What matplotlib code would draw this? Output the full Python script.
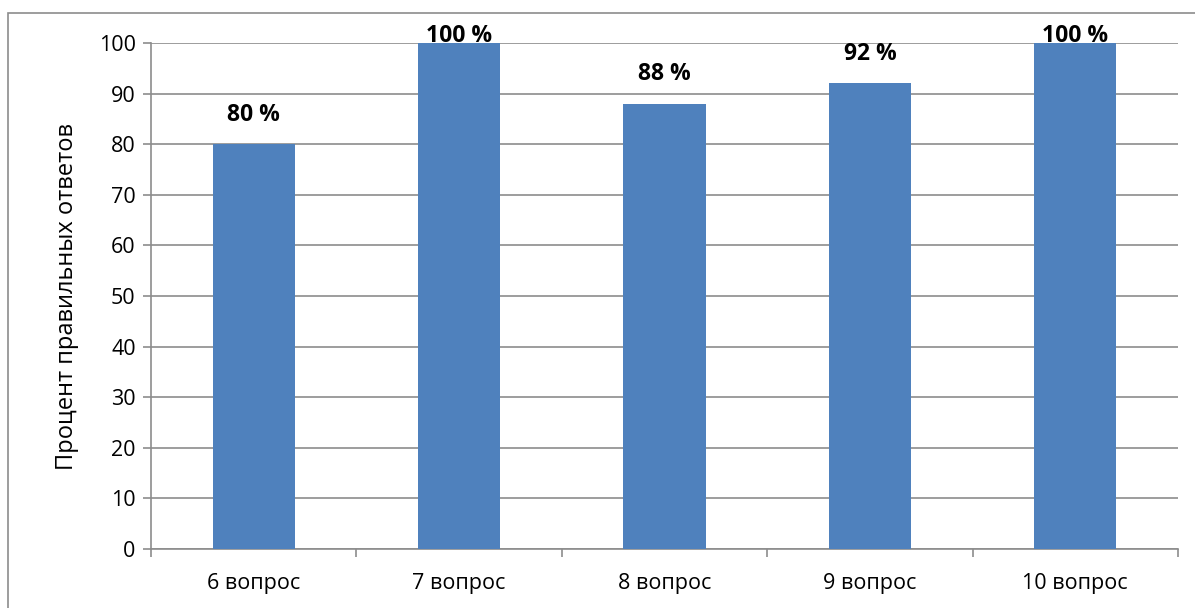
import matplotlib.pyplot as plt
from matplotlib.patches import Rectangle

categories = ['6 вопрос', '7 вопрос', '8 вопрос', '9 вопрос', '10 вопрос']
values = [80, 100, 88, 92, 100]
labels = ['80 %', '100 %', '88 %', '92 %', '100 %']

plt.rcParams['font.family'] = ['Open Sans', 'DejaVu Sans']

W, H = 1195, 608
fig = plt.figure(figsize=(W / 100, H / 100), dpi=100)
ax = fig.add_axes([151 / W, 1 - 549 / H, (1178 - 151) / W, (549 - 43) / H])

# рамка вокруг диаграммы
fig.patches.append(Rectangle((8 / W, -0.05), 1.2, 1 - 13 / H + 0.05,
                             transform=fig.transFigure, fill=False,
                             edgecolor='#8c8c8c', linewidth=1.2))

x = range(len(categories))
ax.bar(x, values, width=0.4, color='#4F81BD', zorder=3)
for i, (v, lab) in enumerate(zip(values, labels)):
    off = 1.3 if v >= 100 else 5.8
    ax.text(i, v + off, lab, ha='center', va='center',
            fontsize=16.5, fontweight='bold', zorder=4)

ax.set_xlim(-0.5, len(categories) - 0.5)
ax.set_ylim(0, 100)
ax.set_yticks(range(0, 101, 10))
ax.yaxis.grid(True, color='#8c8c8c', linewidth=1.2, zorder=0)
ax.set_xticks(x)
ax.set_xticklabels(categories, fontsize=15.5)
ax.tick_params(axis='x', length=0, pad=17)
ax.set_xticks([i - 0.5 for i in range(len(categories) + 1)], minor=True)
ax.tick_params(axis='x', which='minor', length=6, color='#8c8c8c', width=1.2)
ax.tick_params(axis='y', labelsize=15.5, length=6, color='#8c8c8c', width=1.2, pad=5)
for s in ['top', 'right']:
    ax.spines[s].set_visible(False)
for s in ['left', 'bottom']:
    ax.spines[s].set_color('#8c8c8c')
    ax.spines[s].set_linewidth(1.2)
ax.set_ylabel('Процент правильных ответов', fontsize=17, labelpad=14)

fig.savefig('out.png', dpi=100)
